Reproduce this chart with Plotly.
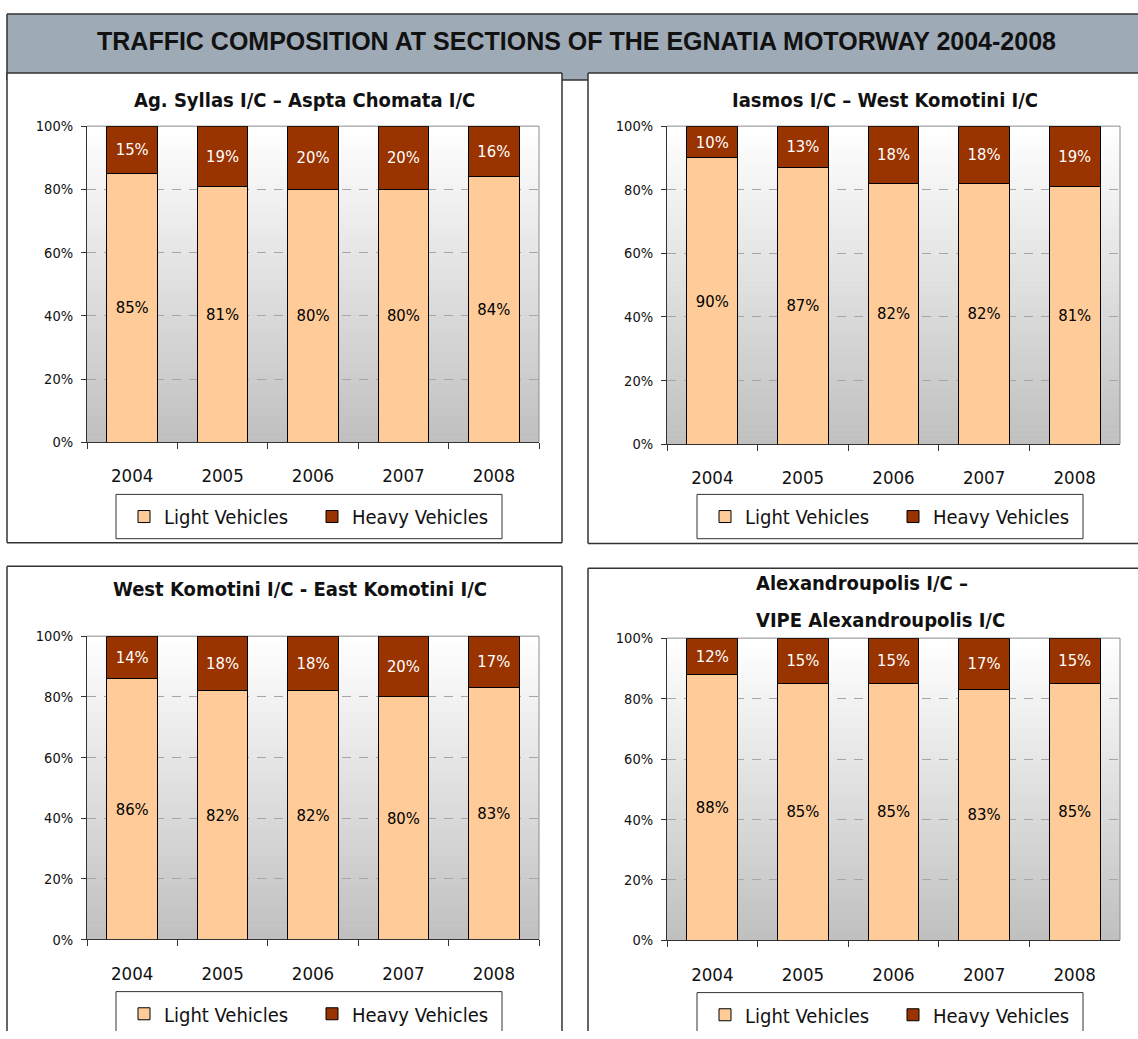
import plotly.graph_objects as go

W, H = 1138, 1039

# ---------------- data ----------------
years = ["2004", "2005", "2006", "2007", "2008"]
main_title = "TRAFFIC COMPOSITION AT SECTIONS OF THE EGNATIA MOTORWAY 2004-2008"
series_names = ["Light Vehicles", "Heavy Vehicles"]

title_1 = ["Ag. Syllas I/C – Aspta Chomata I/C"]
light_1 = [85, 81, 80, 80, 84]
heavy_1 = [15, 19, 20, 20, 16]

title_2 = ["Iasmos I/C – West Komotini I/C"]
light_2 = [90, 87, 82, 82, 81]
heavy_2 = [10, 13, 18, 18, 19]

title_3 = ["West Komotini I/C - East Komotini I/C"]
light_3 = [86, 82, 82, 80, 83]
heavy_3 = [14, 18, 18, 20, 17]

title_4 = ["Alexandroupolis I/C –", "VIPE Alexandroupolis I/C"]
light_4 = [88, 85, 85, 83, 85]
heavy_4 = [12, 15, 15, 17, 15]

y_ticks = [0, 20, 40, 60, 80, 100]

# ---------------- styles ----------------
LIGHT = "#FFCC99"
HEAVY = "#993300"
FONT = "DejaVu Sans Condensed, DejaVu Sans, sans-serif"
TITLE_FONT = "Liberation Sans, Arial, sans-serif"
FRAME = "#333333"


def fx(sx):
    return min(max(sx, 0), W) / W


def fy(sy):
    return 1 - min(max(sy, 0), H) / H


shapes = []


def box(x0, x1, y0, y1, fill, color, width):
    """filled box whose edges are drawn only where they lie inside the page"""
    shapes.append(dict(type="rect", xref="paper", yref="paper",
                       x0=fx(x0), x1=fx(x1), y0=fy(y1), y1=fy(y0),
                       fillcolor=fill, line=dict(width=0), layer="below"))
    edges = []
    if 0 <= y0 <= H:
        edges.append((x0, y0, x1, y0))
    if 0 <= y1 <= H:
        edges.append((x0, y1, x1, y1))
    if 0 <= x0 <= W:
        edges.append((x0, y0, x0, y1))
    if 0 <= x1 <= W:
        edges.append((x1, y0, x1, y1))
    for a, b, c, d in edges:
        shapes.append(dict(type="line", xref="paper", yref="paper",
                           x0=fx(a), y0=fy(b), x1=fx(c), y1=fy(d),
                           line=dict(color=color, width=width), layer="below"))


# layout geometry in screen pixels
panels = [
    dict(light=light_1, heavy=heavy_1, titles=title_1,
         plot=(87, 539, 120, 441), frame=(7, 562, 66, 543),
         legend=(116, 502, 494, 539), tpos=[(304, 93)]),
    dict(light=light_2, heavy=heavy_2, titles=title_2,
         plot=(667, 1120, 120, 443), frame=(588, 1160, 66, 544),
         legend=(697, 1083, 494, 539), tpos=[(885, 93)]),
    dict(light=light_3, heavy=heavy_3, titles=title_3,
         plot=(87, 539, 638, 946), frame=(7, 562, 567, 1075),
         legend=(116, 502, 999, 1044), tpos=[(300, 590)]),
    dict(light=light_4, heavy=heavy_4, titles=title_4,
         plot=(667, 1120, 640, 947), frame=(588, 1160, 569, 1075),
         legend=(697, 1083, 1000, 1045), tpos=[(862, 584), (880, 622)]),
]

fig = go.Figure()
annotations = []
layout_extra = {}

# banner
box(7, 1160, 6, 73, "#9EAAB6", FRAME, 1.5)
annotations.append(dict(text="<b>" + main_title + "</b>", xref="paper", yref="paper",
                        x=fx(576), y=fy(34), xanchor="center", yanchor="middle",
                        showarrow=False, font=dict(family=TITLE_FONT, size=25, color="#111111")))

for i, p in enumerate(panels):
    n = i + 1
    sfx = "" if n == 1 else str(n)
    xa, ya = "x" + sfx, "y" + sfx
    leg = "legend" + sfx
    px0, px1, py0, py1 = p["plot"]

    f0, f1, g0, g1 = p["frame"]
    box(f0, f1, g0, g1, "white", FRAME, 1.5)

    # gradient background of plot area
    nb = 64
    for k in range(nb):
        t = (k + 0.5) / nb
        c = int(round(255 - t * (255 - 192)))
        ya0 = py0 + (py1 - py0) * k / nb
        ya1 = py0 + (py1 - py0) * (k + 1) / nb + 0.6
        shapes.append(dict(type="rect", xref="paper", yref="paper",
                           x0=fx(px0), x1=fx(px1), y0=fy(min(ya1, py1)), y1=fy(ya0),
                           fillcolor=f"rgb({c},{c},{c})", line=dict(width=0),
                           layer="below"))
    # plot area top and right border (gray)
    shapes.append(dict(type="line", xref="paper", yref="paper",
                       x0=fx(px0), x1=fx(px1), y0=fy(py0), y1=fy(py0),
                       line=dict(color="#8C8C8C", width=1), layer="below"))
    shapes.append(dict(type="line", xref="paper", yref="paper",
                       x0=fx(px1), x1=fx(px1), y0=fy(py1), y1=fy(py0),
                       line=dict(color="#8C8C8C", width=1), layer="below"))
    # legend box
    l0, l1, m0, m1 = p["legend"]
    box(l0, l1, m0, m1, "white", FRAME, 1)

    # panel titles
    for txt, (tx, ty) in zip(p["titles"], p["tpos"]):
        annotations.append(dict(text="<b>" + txt + "</b>", xref="paper", yref="paper",
                                x=fx(tx), y=fy(ty), xanchor="center", yanchor="middle",
                                showarrow=False,
                                font=dict(family=FONT, size=20, color="#111111")))

    fig.add_trace(go.Bar(
        x=years, y=p["light"], name=series_names[0], xaxis=xa, yaxis=ya, legend=leg,
        marker=dict(color=LIGHT, line=dict(color="#000000", width=1)),
        text=[f"{v}%" for v in p["light"]], textposition="inside",
        insidetextanchor="middle", textangle=0, constraintext="none",
        textfont=dict(family=FONT, size=16.5, color="#000000"), hoverinfo="skip"))
    fig.add_trace(go.Bar(
        x=years, y=p["heavy"], name=series_names[1], xaxis=xa, yaxis=ya, legend=leg,
        marker=dict(color=HEAVY, line=dict(color="#000000", width=1)),
        text=[f"{v}%" for v in p["heavy"]], textposition="inside",
        insidetextanchor="middle", textangle=0, constraintext="none",
        textfont=dict(family=FONT, size=16.5, color="#FFFFFF"), hoverinfo="skip"))

    layout_extra["xaxis" + sfx] = dict(
        domain=[fx(px0), fx(px1)], anchor=ya, type="category",
        range=[-0.5, 4.5], showline=True, linecolor=FRAME, linewidth=1,
        ticks="outside", tickson="boundaries", ticklen=6, tickcolor=FRAME,
        showgrid=False, tickfont=dict(family=FONT, size=18.5, color="#111111"),
        ticklabelstandoff=17, fixedrange=True)
    layout_extra["yaxis" + sfx] = dict(
        domain=[fy(py1), fy(py0)], anchor=xa, range=[0, 100],
        tickmode="array", tickvals=y_ticks, ticktext=[f"{v}%" for v in y_ticks],
        showline=True, linecolor=FRAME, linewidth=1, ticks="outside",
        ticklen=5, tickcolor=FRAME, showgrid=True, gridcolor="#A6A6A6",
        griddash="9px,8px", gridwidth=1, zeroline=False,
        tickfont=dict(family=FONT, size=14.5, color="#111111"),
        ticklabelstandoff=5, fixedrange=True)
    layout_extra[leg] = dict(
        orientation="h", xref="paper", yref="paper",
        x=fx(l0 + 8), y=fy((m0 + m1) / 2), xanchor="left", yanchor="middle",
        bgcolor="rgba(0,0,0,0)", borderwidth=0, traceorder="normal",
        font=dict(family=FONT, size=20, color="#111111"),
        entrywidth=143, entrywidthmode="pixels", itemclick=False, itemdoubleclick=False)

fig.update_layout(
    width=W, height=H, margin=dict(l=0, r=0, t=0, b=0),
    paper_bgcolor="white", plot_bgcolor="rgba(0,0,0,0)",
    barmode="stack", bargap=0.44, showlegend=True, hovermode=False,
    shapes=shapes, annotations=annotations, **layout_extra)

fig.write_html("out.html",
               config={"displayModeBar": False, "staticPlot": True},
               post_script="document.body.style.margin='0';document.body.style.overflow='hidden';")
